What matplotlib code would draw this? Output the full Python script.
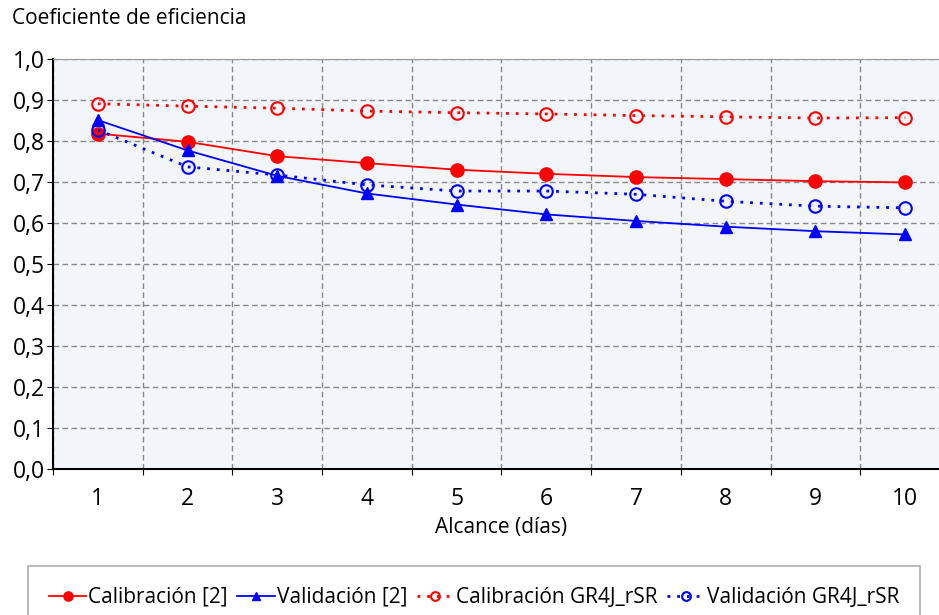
import matplotlib
matplotlib.use("Agg")
from matplotlib import pyplot as plt

# Data
alcance = [1, 2, 3, 4, 5, 6, 7, 8, 9, 10]
calib_2 = [0.818, 0.798, 0.763, 0.746, 0.730, 0.720, 0.712, 0.707, 0.702, 0.699]
valid_2 = [0.851, 0.777, 0.715, 0.672, 0.645, 0.621, 0.605, 0.591, 0.580, 0.572]
calib_gr4j = [0.891, 0.885, 0.880, 0.873, 0.869, 0.866, 0.862, 0.859, 0.856, 0.857]
valid_gr4j = [0.827, 0.737, 0.717, 0.693, 0.678, 0.678, 0.670, 0.653, 0.641, 0.637]
y_ticks = [0.0, 0.1, 0.2, 0.3, 0.4, 0.5, 0.6, 0.7, 0.8, 0.9, 1.0]

plt.rcParams['font.family'] = ['Open Sans', 'DejaVu Sans']

fig = plt.figure(figsize=(9.39, 6.15), dpi=100)
ax = fig.add_axes([53/939, 1 - 469/615, (950 - 53)/939, (469 - 59)/615])
ax.set_facecolor("#F2F5FA")

ax.plot(alcance, calib_2, color="red", lw=1.3, marker="o", ms=9.5, label="Calibración [2]")
ax.plot(alcance, valid_2, color="#0000FF", lw=1.3, marker="^", ms=9, label="Validación [2]")
ax.plot(alcance, calib_gr4j, color="red", lw=2, ls=(0, (1, 2.5)), marker="o", ms=9,
        mfc="none", mew=1.5, label="Calibración GR4J_rSR")
ax.plot(alcance, valid_gr4j, color="#0000FF", lw=2, ls=(0, (1, 2.5)), marker="o", ms=9,
        mfc="none", mew=1.5, label="Validación GR4J_rSR")

ax.set_xlim(0.5, 10.5)
ax.set_ylim(0, 1)
ax.set_xticks([i + 0.5 for i in range(0, 11)])
ax.set_xticklabels([])
ax.set_xticks(alcance, minor=True)
ax.set_xticklabels([str(a) for a in alcance], minor=True, fontsize=16.5)
ax.tick_params(axis="x", which="minor", length=0, pad=13)
ax.tick_params(axis="x", which="major", length=4, direction="out")
ax.set_yticks(y_ticks)
ax.set_yticklabels([f"{v:.1f}".replace(".", ",") for v in y_ticks], fontsize=16.5)
ax.tick_params(axis="y", length=4, pad=2)

ax.grid(True, which="major", color="#888888", ls=(0, (4, 2.5)), lw=1)
for side in ["top", "right"]:
    ax.spines[side].set_color("#999999")
ax.spines["left"].set_linewidth(1.5)
ax.spines["bottom"].set_linewidth(1.5)

ax.set_xlabel("Alcance (días)", fontsize=15, labelpad=4)
fig.text(12/939, 1 - 18/615, "Coeficiente de eficiencia", fontsize=15, va="center", ha="left")

leg = fig.legend(loc="upper left", bbox_to_anchor=(28/939, 1 - 566/615), ncol=4,
                 prop={"size": 15}, frameon=True, fancybox=False, borderaxespad=0,
                 edgecolor="#999999", handlelength=1.8, handletextpad=0.1,
                 columnspacing=0.45, borderpad=1.0, markerscale=0.7)
leg.get_frame().set_linewidth(1.2)

plt.savefig("out.png", dpi=100)
